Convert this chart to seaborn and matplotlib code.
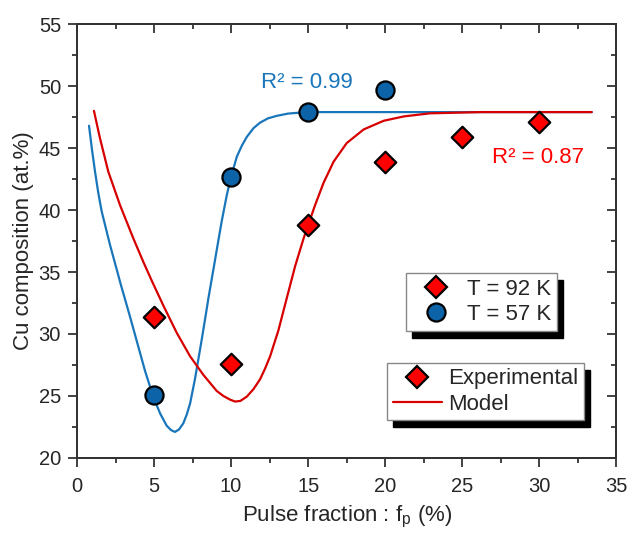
import numpy as np
import pandas as pd
import matplotlib
matplotlib.use("Agg")
import matplotlib.pyplot as plt
from matplotlib.ticker import MultipleLocator
from matplotlib.lines import Line2D
import seaborn as sns

# measured points
x_92 = [5, 10, 15, 20, 25, 30]
y_92 = [31.4, 27.6, 38.8, 43.9, 45.9, 47.1]
x_57 = [5, 10, 15, 20]
y_57 = [25.1, 42.7, 47.9, 49.7]

# model curves
mx_57 = [0.78, 0.97, 1.17, 1.38, 1.6, 2.14, 2.84, 3.44, 4.42, 4.96, 5.39, 5.82, 6.1,
         6.36, 6.62, 6.9, 7.12, 7.34, 7.66, 7.88, 8.1, 8.31, 8.53, 8.96, 9.39, 9.72,
         9.98, 10.37, 10.7, 11.02, 11.45, 11.88, 12.4, 12.97, 13.7, 14.48, 15.0,
         20, 25, 30, 33.4]
my_57 = [46.8, 44.9, 43.1, 41.4, 39.9, 37.2, 34.0, 31.4, 27.0, 24.9, 23.6, 22.6, 22.25,
         22.1, 22.3, 22.8, 23.5, 24.4, 26.4, 28.0, 29.6, 31.2, 32.9, 36.0, 39.1, 41.2,
         42.6, 44.3, 45.2, 45.9, 46.6, 47.05, 47.4, 47.6, 47.78, 47.86, 47.9,
         47.9, 47.9, 47.9, 47.9]
mx_92 = [1.1, 1.49, 2.03, 2.79, 3.66, 4.31, 4.85, 5.6, 6.47, 7.34, 8.2, 9.07, 9.5,
         9.94, 10.26, 10.6, 11.02, 11.45, 11.88, 12.2, 12.53, 13.07, 13.55, 14.16,
         14.7, 15.0, 15.45, 16.0, 16.65, 17.5, 18.6, 19.9, 21.2, 22.9, 26.2, 30, 33.4]
my_92 = [48.0, 45.8, 43.1, 40.4, 37.7, 35.8, 34.3, 32.3, 30.1, 28.2, 26.7, 25.4, 25.0,
         24.7, 24.55, 24.6, 24.95, 25.55, 26.35, 27.2, 28.2, 30.3, 32.6, 35.5,
         37.7, 38.8, 40.4, 42.2, 43.9, 45.4, 46.5, 47.2, 47.55, 47.8, 47.9, 47.9, 47.9]

blue = "#1a76bb"
blue_dot = "#0d63a8"
red_line = "#d70000"
red_dot = "#ff0000"
axis_col = "#333333"

sns.set_style("ticks")
plt.rcParams["font.family"] = ["Liberation Sans", "DejaVu Sans"]

fig = plt.figure(figsize=(6.29, 5.35), dpi=100)
ax = fig.add_axes([0.1224, 0.144, 0.8576, 0.811])

sns.lineplot(x=mx_57, y=my_57, color=blue, lw=1.6, sort=False, ax=ax)
sns.lineplot(x=mx_92, y=my_92, color=red_line, lw=1.6, sort=False, ax=ax)
for line in ax.lines:
    line.set_solid_joinstyle("round")

sns.scatterplot(x=x_92, y=y_92, marker="D", s=120, color=red_dot,
                edgecolor="black", linewidth=1.6, ax=ax, zorder=5)
sns.scatterplot(x=x_57, y=y_57, marker="o", s=170, color=blue_dot,
                edgecolor="black", linewidth=1.6, ax=ax, zorder=5)

ax.text(11.95, 50.3, "R² = 0.99", color=blue, fontsize=16, va="center")
ax.text(26.95, 44.27, "R² = 0.87", color=red_dot, fontsize=16, va="center")

ax.set_xlim(0, 35)
ax.set_ylim(20, 55)


def set_ticks(a):
    a.xaxis.set_major_locator(MultipleLocator(5))
    a.xaxis.set_minor_locator(MultipleLocator(2.5))
    a.yaxis.set_major_locator(MultipleLocator(5))
    a.yaxis.set_minor_locator(MultipleLocator(2.5))
    a.tick_params(which="major", length=6.5)
    a.tick_params(which="minor", length=3.5)
    for sp in a.spines.values():
        sp.set_linewidth(1.3)
        sp.set_color(axis_col)


set_ticks(ax)
ax.tick_params(which="both", direction="out", top=False, right=False,
               labelsize=14.5, color=axis_col, width=1.3)
ax.tick_params(axis="y", pad=5)
ax.tick_params(axis="x", pad=7)

# mirrored inward ticks on top and right
axt = ax.twiny()
axt.set_xlim(ax.get_xlim())
axr = ax.twinx()
axr.set_ylim(ax.get_ylim())
for a in (axt, axr):
    set_ticks(a)
    a.tick_params(which="both", direction="in", color=axis_col, width=1.3,
                  labeltop=False, labelright=False, labelbottom=False, labelleft=False,
                  bottom=False, left=False)
    a.grid(False)

ax.set_xlabel("Pulse fraction : f$_\\mathregular{p}$ (%)", fontsize=16, labelpad=6)
ax.set_ylabel("Cu composition (at.%)", fontsize=16, labelpad=3)

shadow = {"color": "black", "alpha": 1, "ox": 4.5, "oy": -5}
leg_kw = dict(loc="upper left", fontsize=16, frameon=True, fancybox=False,
              shadow=shadow, edgecolor="#888888", handletextpad=0.3,
              borderpad=0.25, labelspacing=0.2, handlelength=2.2, borderaxespad=0)

h1 = [Line2D([], [], ls="", marker="D", ms=10.8, mfc=red_dot, mec="black", mew=1.6),
      Line2D([], [], ls="", marker="o", ms=13, mfc=blue_dot, mec="black", mew=1.6)]
leg1 = axr.legend(h1, ["T = 92 K", "T = 57 K"], bbox_to_anchor=(0.610, 0.426), **leg_kw)
leg1.get_frame().set_alpha(1)
leg1.get_frame().set_linewidth(1.0)
axr.add_artist(leg1)

h2 = [Line2D([], [], ls="", marker="D", ms=10.8, mfc=red_dot, mec="black", mew=1.6),
      Line2D([], [], color=red_line, lw=1.6)]
leg2 = axr.legend(h2, ["Experimental", "Model"], bbox_to_anchor=(0.575, 0.219), **leg_kw)
leg2.get_frame().set_alpha(1)
leg2.get_frame().set_linewidth(1.0)

fig.savefig("out.png", dpi=100)
